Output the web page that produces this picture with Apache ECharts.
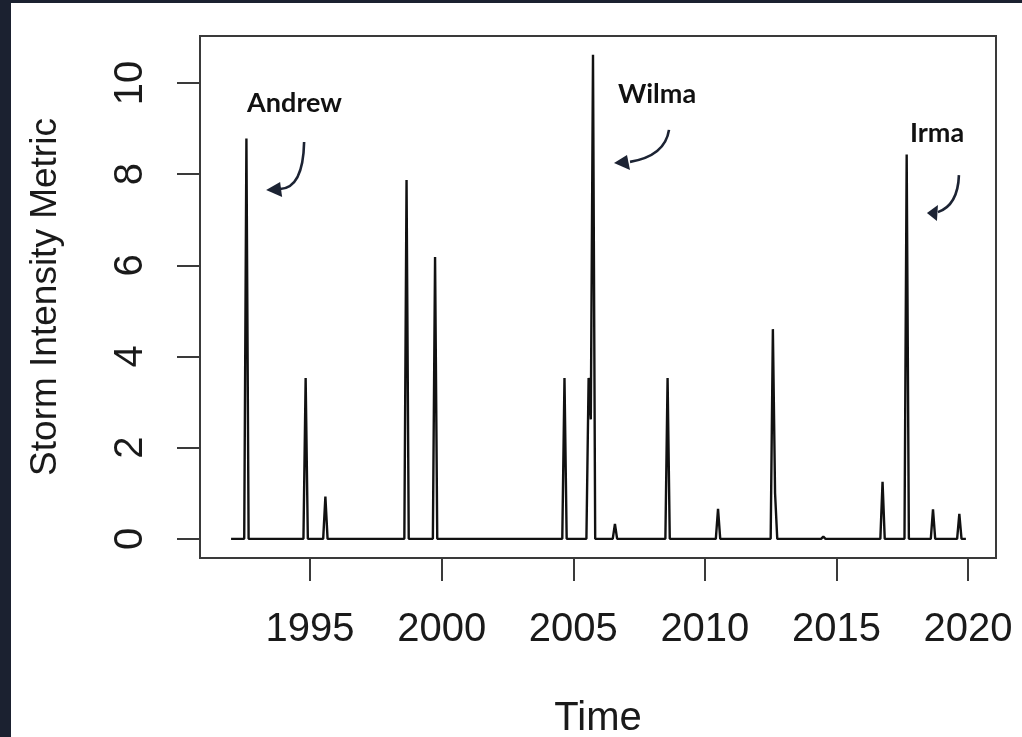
<!DOCTYPE html>
<html>
<head>
<meta charset="utf-8">
<script src="https://cdn.jsdelivr.net/npm/echarts@6/dist/echarts.min.js"></script>
<style>
  html, body { margin: 0; padding: 0; background: #ffffff; }
  #chart { width: 1022px; height: 737px; }
</style>
</head>
<body>
<div id="chart"></div>
<script>
// ---- Data (monthly observations; months not listed are zero) ----
const months = [
  "1992-01","1992-07","1992-08","1992-09",
  "1994-10","1994-11","1994-12",
  "1995-07","1995-08","1995-09",
  "1998-08","1998-09","1998-10",
  "1999-09","1999-10","1999-11",
  "2004-08","2004-09","2004-10",
  "2005-07","2005-08","2005-09","2005-10","2005-11",
  "2006-07","2006-08","2006-09",
  "2008-07","2008-08","2008-09",
  "2010-06","2010-07","2010-08",
  "2012-07","2012-08","2012-09","2012-10",
  "2014-06","2014-07","2014-08",
  "2016-09","2016-10","2016-11",
  "2017-08","2017-09","2017-10",
  "2018-08","2018-09","2018-10",
  "2019-08","2019-09","2019-10","2019-12"
];
const values = [
  0, 0, 8.78, 0,
  0, 3.53, 0,
  0, 0.93, 0,
  0, 7.87, 0,
  0, 6.18, 0,
  0, 3.53, 0,
  0, 3.53, 2.62, 10.62, 0,
  0, 0.33, 0,
  0, 3.53, 0,
  0, 0.66, 0,
  0, 4.60, 1.00, 0,
  0, 0.05, 0,
  0, 1.25, 0,
  0, 8.43, 0,
  0, 0.65, 0,
  0, 0.55, 0, 0
];
const xTicks = [1995, 2000, 2005, 2010, 2015, 2020];
const yTicks = [0, 2, 4, 6, 8, 10];
const storms = ["Andrew", "Wilma", "Irma"];
const stormLabelYear = [1992.61, 2006.70, 2017.79];
const stormLabelValue = [9.56, 9.76, 8.90];

// ---- Build ----
const seriesData = months.map((m, i) => {
  const [y, mo] = m.split("-").map(Number);
  return [y + (mo - 1) / 12, values[i]];
});

const chart = echarts.init(document.getElementById("chart"), null, { renderer: "canvas" });
const axisFont = "'Liberation Sans', Arial, sans-serif";
const txt = "#1a1a1a";
const lineCol = "#3a3a3a";

chart.setOption({
  backgroundColor: "#ffffff",
  animation: false,
  grid: {
    left: 200, top: 36, width: 796, height: 522,
    containLabel: false, outerBoundsMode: "none",
    show: true, borderColor: lineCol, borderWidth: 2, backgroundColor: "transparent"
  },
  xAxis: {
    type: "value", min: 1990.82, max: 2021.06,
    name: "Time", nameLocation: "middle", nameGap: 141,
    nameTextStyle: { fontFamily: axisFont, fontSize: 40, color: txt },
    axisLine: { show: false, onZero: false },
    splitLine: { show: false },
    axisTick: { show: true, inside: false, length: 23, customValues: xTicks,
      lineStyle: { color: lineCol, width: 2 } },
    axisLabel: { customValues: xTicks, margin: 52, fontFamily: axisFont, fontSize: 40, color: txt,
      formatter: v => String(v) }
  },
  yAxis: {
    type: "value", min: -0.42, max: 11.03,
    name: "Storm Intensity Metric", nameLocation: "middle", nameGap: 136, nameRotate: 90,
    nameTextStyle: { fontFamily: axisFont, fontSize: 37, color: txt },
    axisLine: { show: false, onZero: false },
    splitLine: { show: false },
    axisTick: { show: true, inside: false, length: 23, customValues: yTicks,
      lineStyle: { color: lineCol, width: 2 } },
    axisLabel: { customValues: yTicks, rotate: 90, margin: 49, fontFamily: axisFont, fontSize: 40, color: txt,
      formatter: v => String(v) }
  },
  series: [{
    type: "line", data: seriesData, showSymbol: false, symbol: "none",
    lineStyle: { color: "#111111", width: 2.4 }, z: 3
  }]
});

// ---- Annotations (text + curved arrows), anchored in data coordinates ----
const arrowCol = "#1c2333";
// offsets relative to each label's left-middle anchor: [start, control, end, tip, corner1, corner2]
const arrowShapes = [
  [[57, 39], [56, 85], [33, 86], [19, 87], [33, 79], [35, 94]],
  [[51, 36], [47, 62], [12, 68], [-4, 69], [9, 61], [12, 76]],
  [[49, 42], [48, 72], [28, 79], [17, 80], [28, 72], [27, 88]]
];
const g = [
  { type: "rect", shape: { x: 0, y: 0, width: 11, height: 737 }, style: { fill: "#1b2130" }, z: 100 },
  { type: "rect", shape: { x: 0, y: 0, width: 1022, height: 3 }, style: { fill: "#1b2130" }, z: 100 }
];
storms.forEach((name, i) => {
  const p = chart.convertToPixel({ gridIndex: 0 }, [stormLabelYear[i], stormLabelValue[i]]);
  const s = arrowShapes[i];
  const at = k => [p[0] + s[k][0], p[1] + s[k][1]];
  g.push({
    type: "text", x: p[0], y: p[1], z: 50,
    style: { text: name, font: "bold 27px Lato, 'Noto Sans', sans-serif", fill: "#111111",
      textAlign: "left", textVerticalAlign: "middle" }
  });
  const a = at(0), c = at(1), e = at(2);
  g.push({
    type: "bezierCurve", z: 50,
    shape: { x1: a[0], y1: a[1], cpx1: c[0], cpy1: c[1], x2: e[0], y2: e[1] },
    style: { stroke: arrowCol, lineWidth: 2.6, fill: null }
  });
  g.push({
    type: "polygon", z: 51,
    shape: { points: [at(3), at(4), at(5)] },
    style: { fill: arrowCol }
  });
});
chart.setOption({ graphic: g });
</script>
</body>
</html>
